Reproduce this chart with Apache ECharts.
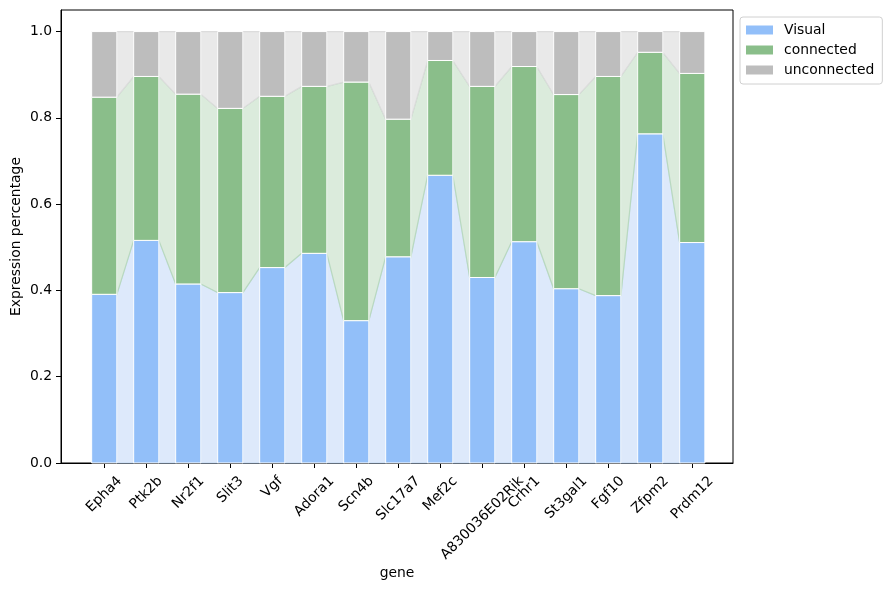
<!DOCTYPE html>
<html>
<head>
<meta charset="utf-8">
<script src="https://cdn.jsdelivr.net/npm/echarts@6/dist/echarts.min.js"></script>
<style>
  html, body { margin: 0; padding: 0; background: #fff; }
  #chart { width: 889px; height: 590px; }
</style>
</head>
<body>
<div id="chart"></div>
<script>
// gene order on the x axis
const genes = ["Epha4", "Ptk2b", "Nr2f1", "Slit3", "Vgf", "Adora1", "Scn4b", "Slc17a7",
  "Mef2c", "A830036E02Rik", "Crhr1", "St3gal1", "Fgf10", "Zfpm2", "Prdm12"];

// fractions (each bar sums to 1)
const visual = [0.391, 0.516, 0.415, 0.395, 0.453, 0.486, 0.330, 0.478, 0.667, 0.430, 0.513, 0.404, 0.388, 0.763, 0.511];
const connected = [0.457, 0.380, 0.440, 0.427, 0.397, 0.387, 0.553, 0.319, 0.266, 0.443, 0.406, 0.450, 0.508, 0.189, 0.392];
const unconnected = [0.152, 0.104, 0.145, 0.178, 0.150, 0.127, 0.117, 0.203, 0.067, 0.127, 0.081, 0.146, 0.104, 0.048, 0.097];

const yTicks = [0, 0.2, 0.4, 0.6, 0.8, 1.0];

const layerNames = ["Visual", "connected", "unconnected"];
const barColors = ["#92bff9", "#8abe8a", "#bdbdbd"];
const bandColors = ["#dde9fb", "#dbebdc", "#e9e9e9"];
const bandEdges = ["#c6dbf5", "#b9d9bf", "#dcdcdc"];
const barW = 0.6;
const FONT = '13.9px "DejaVu Sans"';

const layers = [visual, connected, unconnected];

// cumulative bottoms / tops per layer
const bottoms = [], tops = [];
layers.forEach((vals, k) => {
    bottoms.push(vals.map((v, i) => k === 0 ? 0 : tops[k - 1][i]));
    tops.push(vals.map((v, i) => bottoms[k][i] + v));
});

const measureCtx = document.createElement("canvas").getContext("2d");
measureCtx.font = FONT;

const series = [];

// connecting bands between neighbouring bars
layers.forEach((vals, k) => {
    const d = [];
    for (let i = 0; i < genes.length - 1; i++) {
        d.push([i, bottoms[k][i], tops[k][i], bottoms[k][i + 1], tops[k][i + 1]]);
    }
    series.push({
        type: "custom",
        name: "band-" + layerNames[k],
        z: 1,
        silent: true,
        encode: { x: 0, y: [1, 2] },
        data: d,
        renderItem: function (params, api) {
            const i = api.value(0);
            const x0 = i + barW / 2, x1 = i + 1 - barW / 2;
            const pts = [
                api.coord([x0, api.value(1)]),
                api.coord([x1, api.value(3)]),
                api.coord([x1, api.value(4)]),
                api.coord([x0, api.value(2)])
            ];
            return {
                type: "polygon",
                shape: { points: pts },
                style: { fill: bandColors[k], stroke: bandEdges[k], lineWidth: 1.2 }
            };
        }
    });
});

// stacked bars
layers.forEach((vals, k) => {
    series.push({
        type: "custom",
        name: layerNames[k],
        z: 2,
        itemStyle: { color: barColors[k] },
        encode: { x: 0, y: [1, 2] },
        data: vals.map((v, i) => [i, bottoms[k][i], tops[k][i]]),
        renderItem: function (params, api) {
            const i = api.value(0);
            const p0 = api.coord([i - barW / 2, api.value(2)]);
            const p1 = api.coord([i + barW / 2, api.value(1)]);
            return {
                type: "rect",
                shape: { x: p0[0], y: p0[1], width: p1[0] - p0[0], height: p1[1] - p0[1] },
                style: { fill: barColors[k], stroke: "#ffffff", lineWidth: 1 }
            };
        }
    });
});

// rotated gene labels, centred under each tick like matplotlib does
series.push({
    type: "custom",
    name: "gene-labels",
    z: 3,
    silent: true,
    clip: false,
    encode: { x: 0, y: 1 },
    data: genes.map((g, i) => [i, 0]),
    renderItem: function (params, api) {
        const i = api.value(0);
        const p = api.coord([i, 0]);
        const w = measureCtx.measureText(genes[i]).width;
        return {
            type: "text",
            x: p[0] + w * 0.354,
            y: p[1] + 16,
            rotation: Math.PI / 4,
            style: {
                text: genes[i],
                font: FONT,
                fill: "#000",
                align: "right",
                verticalAlign: "middle"
            }
        };
    }
});

const chart = echarts.init(document.getElementById("chart"));

chart.setOption({
    animation: false,
    backgroundColor: "#fff",
    textStyle: { fontFamily: "DejaVu Sans" },
    grid: {
        left: 61, right: 156, top: 10, bottom: 127,
        outerBoundsMode: "none",
        containLabel: false,
        show: true, borderColor: "#000", borderWidth: 1, backgroundColor: "transparent"
    },
    legend: {
        orient: "vertical",
        left: 740, top: 17,
        padding: [6, 8, 7, 6],
        itemWidth: 27, itemHeight: 9, itemGap: 6,
        icon: "rect",
        borderColor: "#d0d0d0", borderWidth: 1, borderRadius: 3,
        data: layerNames,
        textStyle: { font: FONT, fontSize: 13.9, color: "#000", padding: [0, 0, 0, 6] }
    },
    xAxis: {
        type: "value",
        min: -1.03, max: 14.97,
        name: "gene",
        nameLocation: "middle",
        nameGap: 103,
        nameTextStyle: { fontSize: 13.9, color: "#000" },
        axisLine: { show: true, onZero: false, lineStyle: { color: "#000", width: 1 } },
        axisTick: { show: true, length: 5, lineStyle: { color: "#000" }, customValues: genes.map((g, i) => i) },
        axisLabel: { show: false },
        splitLine: { show: false }
    },
    yAxis: {
        type: "value",
        min: 0, max: 1.05, interval: 0.2,
        name: "Expression percentage",
        nameLocation: "middle",
        nameGap: 38,
        nameMoveOverlap: false,
        nameTextStyle: { fontSize: 13.9, color: "#000" },
        axisLine: { show: true, onZero: false, lineStyle: { color: "#000", width: 1 } },
        axisTick: { show: true, length: 5, lineStyle: { color: "#000" }, customValues: yTicks },
        axisLabel: {
            fontSize: 13.9, color: "#000", margin: 9,
            customValues: yTicks,
            formatter: v => v.toFixed(1)
        },
        splitLine: { show: false }
    },
    series: series
});
</script>
</body>
</html>
